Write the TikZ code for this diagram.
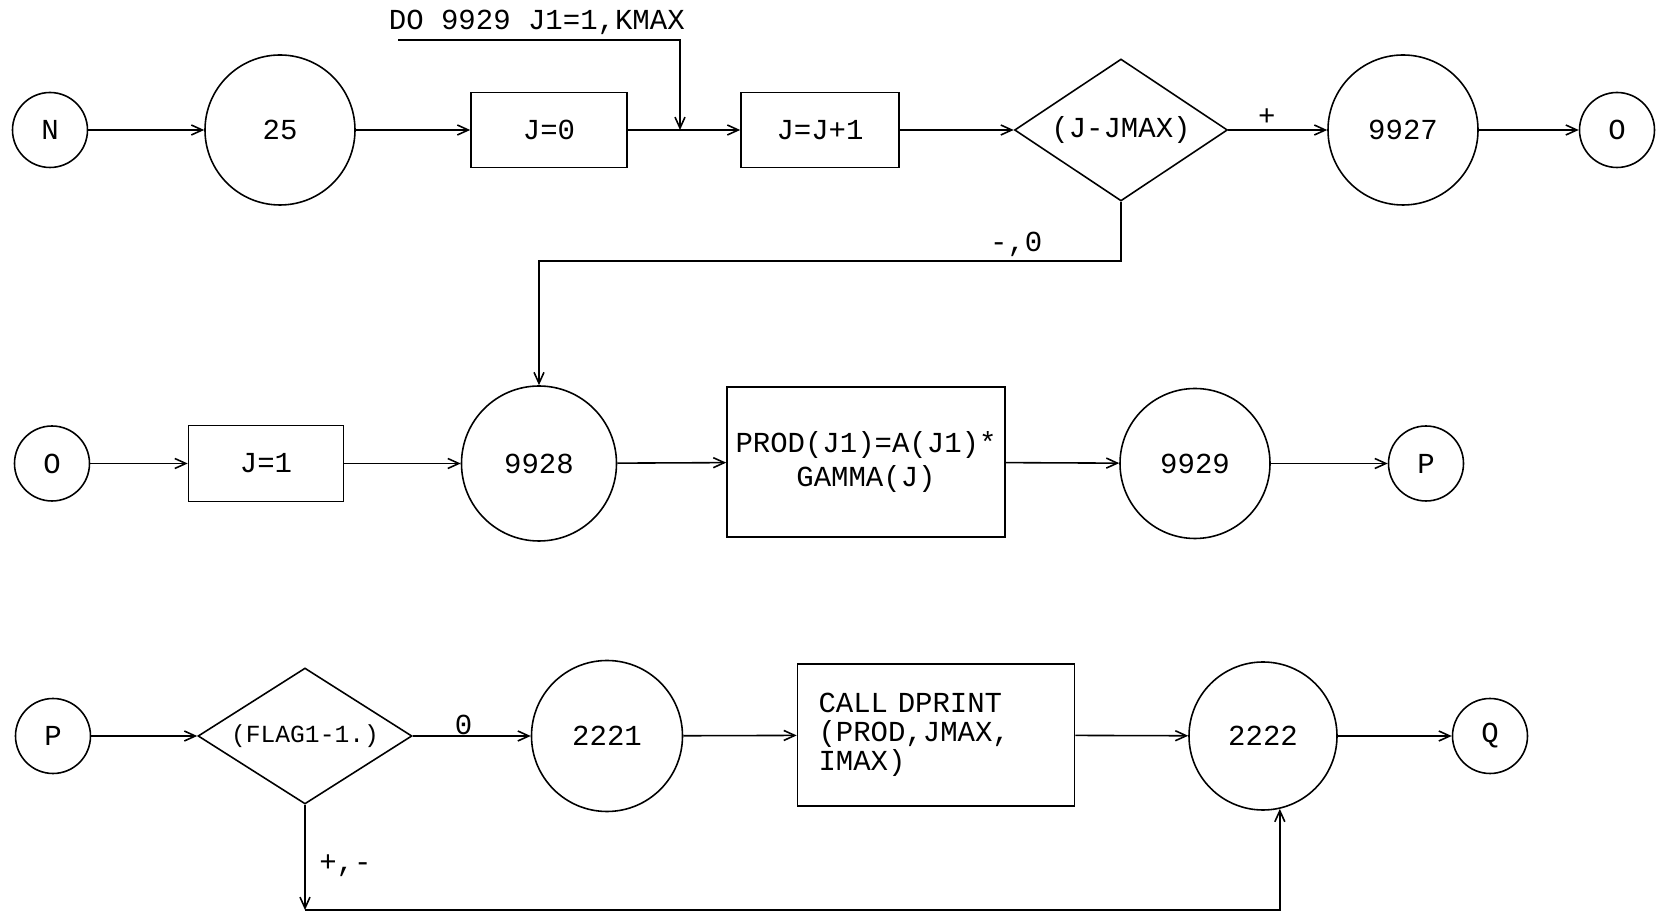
\documentclass[tikz,border=0pt]{standalone}
\usepackage{fontspec}
\newfontfamily\plotfont{Liberation Mono}
\usetikzlibrary{arrows.meta,shapes.geometric}
\tikzset{
  >={Straight Barb[length=2.2mm,width=2mm]},
  font=\plotfont\fontsize{16.5}{19.3}\selectfont,
  conn/.style={draw, circle, inner sep=0pt, minimum size=1.5cm},
  numc/.style={draw, circle, inner sep=0pt, minimum size=3cm},
  pbox/.style={draw, rectangle, inner sep=2pt,
               minimum width=3.12cm, minimum height=1.5cm},
  test/.style={draw, diamond, aspect=1.5, inner sep=0pt,
               minimum width=4.26cm, minimum height=2.84cm},
  arr/.style={->},
  lbl/.style={inner sep=2pt},
}

\begin{document}
\begin{tikzpicture}[line width=0.9pt]
  \useasboundingbox (0,0) rectangle (33.16,18.30);
  \node[conn] (n) at (1.00,15.70) {N};
  \node[numc] (s25) at (5.60,15.70) {25};
  \node[pbox] (jzero) at (10.98,15.70) {J=0};
  \node[pbox, minimum width=3.16cm] (jinc) at (16.40,15.70) {J=J+1};
  \node[test] (tj) at (22.42,15.70) {(J-JMAX)};
  \node[numc] (s9927) at (28.06,15.70) {9927};
  \node[conn] (o1) at (32.34,15.70) {O};
  \node[lbl, anchor=south east] (dotext) at (13.78,17.52) {DO 9929 J1=1,KMAX};
  \coordinate (dostart) at (7.96,17.50);
  \coordinate (doin) at (13.60,15.70);
  \coordinate (loopa) at (10.78,13.08);

  \node[conn] (o2) at (1.04,9.03) {O};
  \node[pbox, minimum width=3.10cm, minimum height=1.52cm] (jone) at (5.32,9.03) {J=1};
  \node[numc, minimum size=3.1cm] (s9928) at (10.78,9.03) {9928};
  \node[pbox, minimum width=5.56cm, minimum height=3.0cm, align=center] (prod) at (17.32,9.06) {PROD(J1)=A(J1)*\\GAMMA(J)};
  \node[numc] (s9929) at (23.90,9.03) {9929};
  \node[conn] (p1) at (28.52,9.03) {P};

  \node[conn] (p2) at (1.06,3.58) {P};
  \node[test, minimum width=4.28cm, minimum height=2.72cm,
        font=\plotfont\fontsize{14}{17}\selectfont] (tflag) at (6.10,3.58) {(FLAG1-1.)};
  \node[numc, minimum size=3.02cm] (s2221) at (12.14,3.58) {2221};
  \node[pbox, text width=4.70cm, inner xsep=0.42cm, minimum height=2.84cm, align=left,
        font=\plotfont\fontsize{16.5}{16.4}\selectfont] (dprint) at (18.72,3.60) {CALL DPRINT\\(PROD,JMAX,\\IMAX)};
  \node[numc, minimum size=2.96cm] (s2222) at (25.26,3.58) {2222};
  \node[conn] (q) at (29.80,3.58) {Q};
  \coordinate (loopb) at (6.10,0.10);

  \draw[arr] (n) -- (s25);
  \draw[arr] (s25) -- (jzero);
  \draw[arr] (jzero) -- (jinc);
  \draw[arr] (dostart) -| (doin);
  \draw[arr] (jinc) -- (tj);
  \draw[arr] (tj) -- node[lbl, above, pos=0.39] {+} (s9927);
  \draw[arr] (s9927) -- (o1);
  \draw[arr] (tj.south) |- node[lbl, above, pos=0.59] {-,0} (loopa) -- (s9928);

  \draw[arr] (o2) -- (jone);
  \draw[arr] (jone) -- (s9928);
  \draw[arr] (s9928) -- (prod);
  \draw[arr] (prod) -- (s9929);
  \draw[arr] (s9929) -- (p1);

  \draw[arr] (p2) -- (tflag);
  \draw[arr] (tflag) -- node[lbl, above, pos=0.43, inner sep=0.5pt] {0} (s2221);
  \draw[arr] (s2221) -- (dprint);
  \draw[arr] (dprint) -- (s2222);
  \draw[arr] (s2222) -- (q);
  \draw[arr] (tflag.south) -- node[lbl, right, pos=0.58, xshift=0.2cm] {+,-} (loopb);
  \draw[arr] (loopb) -| (s2222.283);
\end{tikzpicture}
\end{document}
